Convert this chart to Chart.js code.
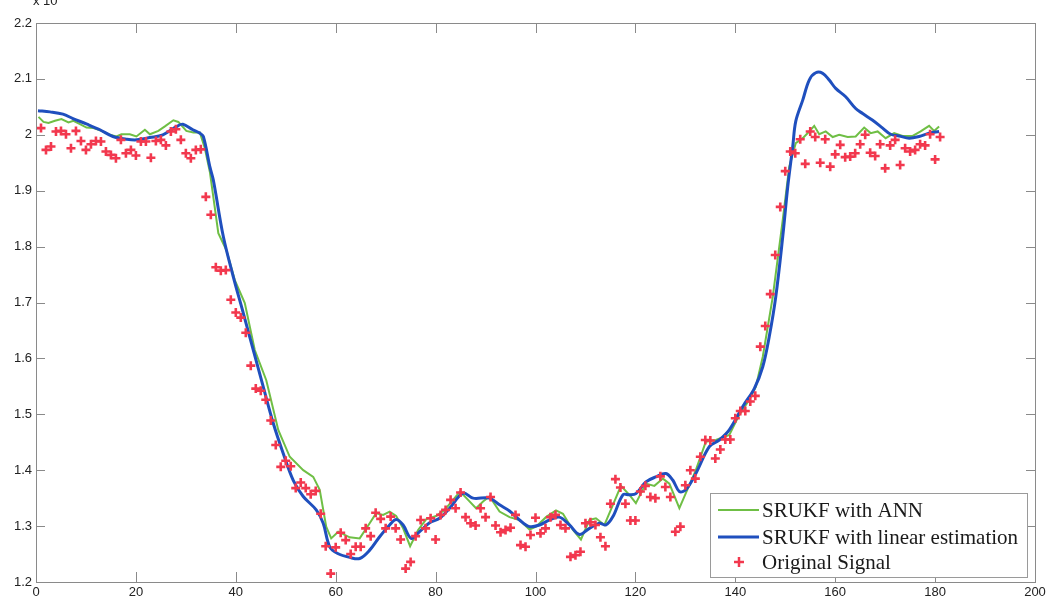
<!DOCTYPE html>
<html>
<head>
<meta charset="utf-8">
<script src="https://cdn.jsdelivr.net/npm/chart.js@4/dist/chart.umd.min.js"></script>
<style>
  html, body { margin: 0; padding: 0; background: #fff; }
  #chart { display: block; }
</style>
</head>
<body>
<canvas id="chart" width="1053" height="603"></canvas>
<script>
// Axis ticks
const xTicks = [0, 20, 40, 60, 80, 100, 120, 140, 160, 180, 200];
const yTicks = [1.2, 1.3, 1.4, 1.5, 1.6, 1.7, 1.8, 1.9, 2.0, 2.1, 2.2];

// Original signal (x = 1..181)
const signal = [
  2.012, 1.973, 1.979, 2.006, 2.007, 2.001, 1.976, 2.007, 1.989, 1.973,
  1.983, 1.989, 1.988, 1.970, 1.964, 1.958, 1.991, 1.967, 1.973, 1.963,
  1.988, 1.988, 1.959, 1.989, 1.991, 1.981, 2.006, 2.010, 1.991, 1.967,
  1.958, 1.973, 1.974, 1.889, 1.857, 1.763, 1.757, 1.758, 1.705, 1.682,
  1.673, 1.646, 1.587, 1.546, 1.542, 1.526, 1.489, 1.445, 1.406, 1.417,
  1.407, 1.368, 1.378, 1.368, 1.357, 1.363, 1.322, 1.264, 1.215, 1.262,
  1.288, 1.275, 1.250, 1.263, 1.263, 1.296, 1.282, 1.324, 1.313, 1.296,
  1.317, 1.296, 1.276, 1.224, 1.236, 1.282, 1.311, 1.296, 1.314, 1.276,
  1.320, 1.329, 1.347, 1.332, 1.360, 1.316, 1.305, 1.301, 1.332, 1.316,
  1.352, 1.301, 1.289, 1.293, 1.297, 1.320, 1.266, 1.263, 1.284, 1.315,
  1.287, 1.296, 1.316, 1.320, 1.302, 1.296, 1.245, 1.248, 1.254, 1.305,
  1.307, 1.302, 1.280, 1.264, 1.340, 1.384, 1.369, 1.340, 1.310, 1.310,
  1.362, 1.372, 1.352, 1.350, 1.389, 1.370, 1.352, 1.290, 1.299, 1.373,
  1.400, 1.385, 1.424, 1.454, 1.453, 1.421, 1.437, 1.455, 1.455, 1.493,
  1.506, 1.506, 1.523, 1.533, 1.621, 1.658, 1.715, 1.785, 1.871, 1.935,
  1.970, 1.967, 1.992, 1.948, 2.006, 1.996, 1.950, 1.992, 1.943, 1.965,
  1.982, 1.960, 1.961, 1.967, 1.983, 2.000, 1.968, 1.962, 1.983, 1.940,
  1.981, 1.991, 1.946, 1.976, 1.970, 1.973, 1.983, 1.981, 2.001, 1.956,
  1.996
];

// SRUKF with ANN (green)
const annX = [0.5, 1.5, 2.5, 3.8, 5.1, 6.5, 7.5, 8.8, 10.1, 11.5, 13.1, 14.8, 16.1, 17.1, 18.8, 20.1,
  21.8, 22.8, 24.5, 25.8, 27.5, 28.5, 30.1, 31.5, 32.8, 33.8, 34.8, 36.5, 38.1, 39.8, 41.8, 43.8,
  46.1, 48.5, 50.8, 53.5, 55.5, 56.8, 58.1, 59.1, 60.5, 62.8, 64.8, 66.8, 68.1, 69.5, 70.8, 72.1,
  73.5, 74.9, 76.5, 78.1, 80.1, 81.8, 83.5, 84.9, 86.5, 88.1, 89.5, 90.8, 92.8, 94.8, 96.8, 98.8,
  100.1, 102.1, 104.1, 105.5, 107.5, 109.1, 110.8, 112.1, 113.8, 115.5, 117.1, 118.8, 120.1, 122.1,
  123.8, 125.5, 126.8, 128.8, 130.1, 132.1, 134.1, 136.1, 138.8, 140.8, 142.8, 144.1, 145.5, 147.5,
  149.5, 150.8, 152.1, 153.5, 154.8, 155.8, 156.8, 158.1, 159.5, 160.8, 162.5, 164.1, 165.8, 167.1,
  168.5, 170.1, 171.8, 173.5, 175.5, 177.1, 178.8, 179.8, 180.8];
const annY = [2.032, 2.023, 2.021, 2.025, 2.028, 2.022, 2.025, 2.019, 2.013, 2.012, 2.007, 2.000, 1.997, 2.001, 2.001, 1.997,
  2.009, 2.001, 2.007, 2.015, 2.026, 2.023, 2.007, 2.004, 2.004, 1.976, 1.934, 1.824, 1.794, 1.740, 1.699, 1.615,
  1.561, 1.472, 1.424, 1.400, 1.388, 1.365, 1.299, 1.278, 1.290, 1.280, 1.278, 1.305, 1.323, 1.320, 1.326, 1.318,
  1.296, 1.264, 1.293, 1.312, 1.318, 1.329, 1.347, 1.362, 1.347, 1.332, 1.344, 1.353, 1.326, 1.316, 1.311, 1.294,
  1.299, 1.316, 1.328, 1.322, 1.293, 1.276, 1.311, 1.314, 1.302, 1.338, 1.372, 1.356, 1.341, 1.376,
  1.372, 1.385, 1.376, 1.332, 1.359, 1.400, 1.451, 1.454, 1.463, 1.499, 1.526, 1.549, 1.603, 1.710,
  1.848, 1.943, 1.985, 1.994, 2.006, 2.016, 2.001, 2.006, 1.996, 2.000, 1.996, 1.997, 2.013, 2.003,
  2.006, 1.994, 2.003, 1.998, 1.998, 2.006, 2.016, 2.007, 2.015];

// SRUKF with linear estimation (blue)
const linX = [0.4, 2.8, 5.4, 7.4, 10.2, 12.8, 15.4, 18.2, 20.2, 22.8, 25.4, 28.2, 29.4, 31.4, 32.8, 33.5,
  34.8, 35.5, 37.5, 39.5, 41.5, 43.5, 45.5, 47.5, 49.5, 51.5, 53.5, 56.1, 57.5, 58.8, 60.4, 62.8,
  64.8, 66.8, 68.8, 70.8, 72.1, 73.5, 75.1, 76.8, 78.8, 80.8, 82.8, 85.5, 87.5, 90.8, 92.8, 94.8,
  96.8, 98.8, 100.8, 102.8, 104.8, 106.8, 108.8, 110.8, 112.8, 114.1, 115.5, 117.5, 118.8, 120.1,
  122.1, 124.1, 126.1, 127.5, 128.8, 130.1, 132.1, 134.8, 136.8, 138.8, 141.5, 143.8, 145.5, 146.8,
  148.1, 149.5, 150.5, 151.5, 152.1, 153.5, 154.8, 156.1, 157.5, 158.8, 160.1, 162.1, 164.1, 165.5,
  167.5, 169.5, 171.1, 172.8, 174.8, 176.8, 178.8, 180.8];
const linY = [2.043, 2.041, 2.037, 2.029, 2.019, 2.009, 1.997, 1.992, 1.991, 1.995, 2.000, 2.015, 2.019, 2.009, 2.003, 1.997,
  1.943, 1.919, 1.818, 1.746, 1.681, 1.615, 1.549, 1.484, 1.430, 1.382, 1.353, 1.329, 1.305, 1.263, 1.251, 1.244,
  1.242, 1.257, 1.281, 1.302, 1.312, 1.302, 1.278, 1.290, 1.306, 1.314, 1.332, 1.359, 1.350, 1.350, 1.338, 1.327,
  1.311, 1.299, 1.302, 1.311, 1.316, 1.302, 1.285, 1.296, 1.305, 1.302, 1.317, 1.356, 1.356, 1.358,
  1.379, 1.388, 1.394, 1.382, 1.362, 1.365, 1.394, 1.442, 1.454, 1.472, 1.514, 1.546, 1.585, 1.639,
  1.710, 1.818, 1.907, 1.979, 2.024, 2.062, 2.098, 2.111, 2.110, 2.098, 2.083, 2.068, 2.047, 2.038,
  2.026, 2.012, 2.001, 1.998, 1.994, 1.997, 2.003, 2.006];

const seriesNames = ['SRUKF with ANN', 'SRUKF with linear estimation', 'Original Signal'];
const axisColor = '#8a8a8a';
const textColor = '#222';
const tickFont = '"Liberation Sans", Arial, sans-serif';

const zip = (xs, ys) => xs.map((x, i) => ({ x: x, y: ys[i] }));

// box around the axes, inward ticks, exponent, legend
const framePlugin = {
    id: 'frame',
    afterDraw(chart) {
        const ctx = chart.ctx;
        const a = chart.chartArea;
        const xs = chart.scales.x, ys = chart.scales.y;
        ctx.save();
        ctx.strokeStyle = axisColor;
        ctx.lineWidth = 1;
        ctx.strokeRect(Math.round(a.left) + 0.5, Math.round(a.top) + 0.5,
            Math.round(a.width), Math.round(a.height));
        ctx.beginPath();
        xTicks.forEach(v => {
            const px = Math.round(xs.getPixelForValue(v)) + 0.5;
            ctx.moveTo(px, a.bottom); ctx.lineTo(px, a.bottom - 10);
            ctx.moveTo(px, a.top); ctx.lineTo(px, a.top + 10);
        });
        yTicks.forEach(v => {
            const py = Math.round(ys.getPixelForValue(v)) + 0.5;
            ctx.moveTo(a.left, py); ctx.lineTo(a.left + 9, py);
            ctx.moveTo(a.right, py); ctx.lineTo(a.right - 9, py);
        });
        ctx.stroke();

        // exponent label, cut off by the top edge like the original
        ctx.fillStyle = textColor;
        ctx.font = '13px ' + tickFont;
        ctx.textBaseline = 'alphabetic';
        ctx.fillText('x 10', 33, 5);

        // legend
        const box = { left: 710, top: 493, right: 1027, bottom: 577 };
        ctx.fillStyle = '#fff';
        ctx.fillRect(box.left, box.top, box.right - box.left, box.bottom - box.top);
        ctx.strokeStyle = '#9a9a9a';
        ctx.strokeRect(box.left + 0.5, box.top + 0.5, box.right - box.left, box.bottom - box.top);

        let size = 20;
        ctx.font = size + 'px "Liberation Serif", "Times New Roman", serif';
        const w = ctx.measureText(seriesNames[1]).width;
        size = Math.min(21, size * 261 / w);
        ctx.font = size.toFixed(1) + 'px "Liberation Serif", "Times New Roman", serif';
        ctx.textBaseline = 'middle';
        const rows = [510, 537, 562];
        chart.data.datasets.forEach((ds, i) => {
            const yRow = rows[i];
            ctx.strokeStyle = ds.borderColor;
            ctx.beginPath();
            if (ds.showLine === false) {
                ctx.lineWidth = 2.5;
                ctx.moveTo(734, yRow); ctx.lineTo(744, yRow);
                ctx.moveTo(739, yRow - 5); ctx.lineTo(739, yRow + 5);
            } else {
                ctx.lineWidth = ds.borderWidth;
                ctx.moveTo(718, yRow); ctx.lineTo(759, yRow);
            }
            ctx.stroke();
            ctx.fillStyle = '#1a1a1a';
            ctx.fillText(ds.label, 762, yRow + 1);
        });
        ctx.restore();
    }
};

const ctx = document.getElementById('chart').getContext('2d');
new Chart(ctx, {
    type: 'scatter',
    data: {
        datasets: [{
            label: seriesNames[0],
            data: zip(annX, annY),
            showLine: true,
            borderColor: '#6fbf45',
            borderWidth: 2,
            pointRadius: 0,
            tension: 0,
            order: 2
        }, {
            label: seriesNames[1],
            data: zip(linX, linY),
            showLine: true,
            borderColor: '#1f4fbe',
            borderWidth: 3,
            pointRadius: 0,
            tension: 0.35,
            order: 1
        }, {
            label: seriesNames[2],
            data: signal.map((v, i) => ({ x: i + 1, y: v })),
            showLine: false,
            borderColor: '#f2384e',
            backgroundColor: '#f2384e',
            pointStyle: 'cross',
            pointRadius: 4.5,
            pointBorderWidth: 2.6,
            order: 0
        }]
    },
    options: {
        responsive: false,
        animation: false,
        layout: { padding: { top: 23, right: 18, left: 0, bottom: 0 } },
        plugins: {
            legend: { display: false },
            tooltip: { enabled: false }
        },
        scales: {
            x: {
                type: 'linear',
                min: 0,
                max: 200,
                grid: { display: false, drawTicks: false },
                border: { display: false },
                afterBuildTicks: s => { s.ticks = xTicks.map(v => ({ value: v })); },
                afterFit: s => { s.height = 21; },
                ticks: {
                    color: textColor,
                    padding: 3,
                    maxRotation: 0,
                    font: { family: tickFont, size: 13 },
                    callback: v => String(v)
                }
            },
            y: {
                min: 1.2,
                max: 2.2,
                grid: { display: false, drawTicks: false },
                border: { display: false },
                afterBuildTicks: s => { s.ticks = yTicks.map(v => ({ value: v })); },
                afterFit: s => { s.width = 36; },
                ticks: {
                    color: textColor,
                    padding: 4,
                    font: { family: tickFont, size: 13 },
                    callback: v => String(+v.toFixed(1))
                }
            }
        }
    },
    plugins: [framePlugin]
});
</script>
</body>
</html>
